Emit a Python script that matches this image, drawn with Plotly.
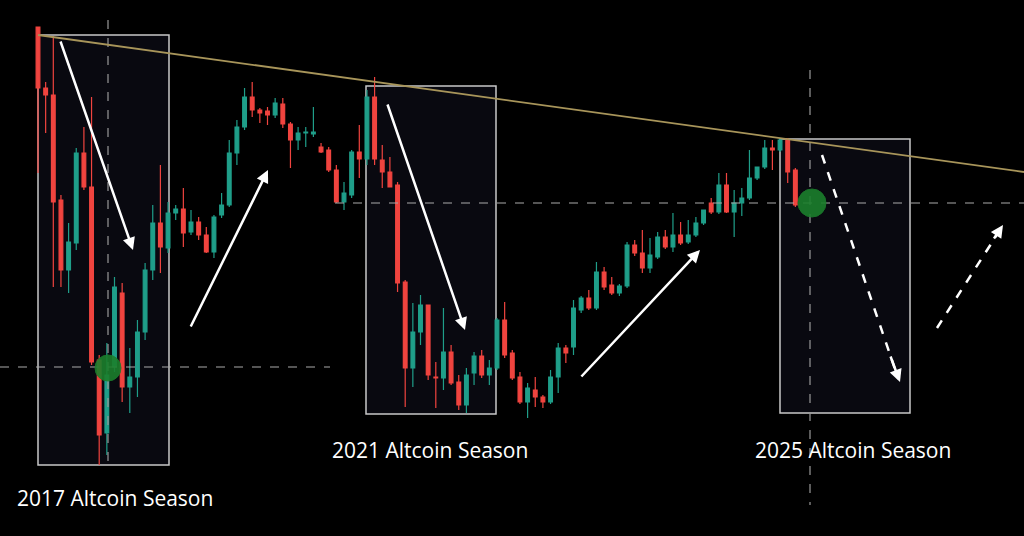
import plotly.graph_objects as go

# Candle values (screen-level units, converted to price below)
open_px = [27,88,95,200,270,243,153,187,360,433,367,293,387,377,332,270,223,248,213,209,
           232,222,235,252,215,205,153,127,97,110,111,115,104,124,140,133,134,147,150,170,
           202,195,152,159,97,160,172,185,282,368,332,305,377,378,352,382,405,373,356,375,
           368,320,353,377,402,390,397,402,377,348,347,310,298,308,272,285,293,286,245,253,
           268,257,237,247,235,242,235,223,203,212,185,212,203,198,178,167,148,150,140,170]
high_px = [27,82,36,195,223,148,127,97,355,343,277,283,348,320,263,205,165,202,205,188,
           210,217,227,215,193,140,120,88,82,108,107,98,98,122,127,127,107,143,147,165,
           182,150,125,90,77,145,157,182,280,303,295,305,362,308,345,375,368,352,350,360,
           318,302,350,372,383,377,395,370,343,345,300,296,290,262,267,277,284,242,240,230,
           238,232,230,213,222,220,217,210,198,173,173,190,188,150,170,140,140,138,138,168]
low_px = [173,133,287,287,293,250,190,365,465,455,372,402,413,397,340,280,273,253,220,247,
          235,240,253,258,218,207,165,130,117,123,125,118,128,168,150,147,137,153,172,203,
          210,198,178,165,165,188,187,292,407,387,345,380,408,390,385,410,413,385,378,385,
          370,358,380,404,418,407,408,404,393,363,355,313,310,310,290,295,296,288,256,273,
          273,259,249,252,245,244,237,225,214,214,213,237,216,200,180,169,170,152,183,207]
close_px = [88,95,202,270,242,153,187,362,435,375,287,387,377,332,270,223,247,213,209,233,
            222,235,252,217,205,153,127,97,110,113,115,103,124,140,133,132,132,152,170,202,
            193,152,159,97,159,172,187,283,368,332,305,375,378,352,383,405,375,356,375,368,
            320,355,378,402,388,397,402,377,348,353,308,298,308,272,287,293,286,245,253,268,
            255,237,247,235,243,235,223,210,212,185,212,203,198,178,167,148,150,140,172,205]

labels = ["2017 Altcoin Season", "2021 Altcoin Season", "2025 Altcoin Season"]

H = 536
S = 7.65
def X(px): return (px - 38) / S
def Y(py): return H - py

idx = list(range(len(open_px)))
o = [Y(v) for v in open_px]; h = [Y(v) for v in high_px]
l = [Y(v) for v in low_px]; c = [Y(v) for v in close_px]

fig = go.Figure()
fig.add_trace(go.Candlestick(
    x=idx, open=o, high=h, low=l, close=c, whiskerwidth=0,
    increasing=dict(line=dict(color="#1f9e89", width=1.2), fillcolor="#1f9e89"),
    decreasing=dict(line=dict(color="#f0443f", width=1.2), fillcolor="#f0443f"),
    showlegend=False, hoverinfo="skip"))

shapes = []
for (x0, y0, x1, y1) in [(38,35,169,465),(366,86,496,414),(780,139,910,413)]:
    shapes.append(dict(type="rect", x0=X(x0), x1=X(x1), y0=Y(y0), y1=Y(y1),
                       line=dict(color="#c8c8c8", width=1.5), fillcolor="rgba(20,20,35,0.45)",
                       layer="below"))
shapes += [
    dict(type="line", x0=X(0), x1=X(330), y0=Y(367), y1=Y(367), line=dict(color="#aaaaaa", width=1.2, dash="dash")),
    dict(type="line", x0=X(335), x1=X(1024), y0=Y(203), y1=Y(203), line=dict(color="#aaaaaa", width=1.2, dash="dash")),
    dict(type="line", x0=X(108), x1=X(108), y0=Y(20), y1=Y(470), line=dict(color="#999999", width=1.2, dash="dash")),
    dict(type="line", x0=X(810), x1=X(810), y0=Y(70), y1=Y(505), line=dict(color="#999999", width=1.2, dash="dash")),
]
shapes.append(dict(type="line", x0=X(38), x1=X(1024), y0=Y(35), y1=Y(172), line=dict(color="#a8955a", width=1.8)))
for (cx, cy, r) in [(108,368,13),(812,203,14)]:
    shapes.append(dict(type="circle", x0=X(cx-r), x1=X(cx+r), y0=Y(cy+r), y1=Y(cy-r),
                       fillcolor="#1b7f2c", line=dict(color="#1b7f2c", width=1), opacity=0.9))
for (x0, y0, x1, y1) in [(822,155,898,378),(937,328,1000,230)]:
    shapes.append(dict(type="line", x0=X(x0), x1=X(x1), y0=Y(y0), y1=Y(y1),
                       line=dict(color="white", width=2.5, dash="dash")))

ann = []
for (x0, y0, x1, y1) in [(60,40,133,250),(190,328,268,170),(387,103,465,330),(580,378,700,250)]:
    ann.append(dict(x=X(x1), y=Y(y1), ax=X(x0), ay=Y(y0), xref="x", yref="y", axref="x", ayref="y",
                    showarrow=True, arrowhead=2, arrowsize=1, arrowwidth=2.5, arrowcolor="white", text=""))
for (x0, y0, x1, y1) in [(890,355,900,382),(993,240,1003,225)]:
    ann.append(dict(x=X(x1), y=Y(y1), ax=X(x0), ay=Y(y0), xref="x", yref="y", axref="x", ayref="y",
                    showarrow=True, arrowhead=2, arrowsize=1, arrowwidth=2.5, arrowcolor="white", text=""))
for (t, px, py) in zip(labels, [115, 430, 853], [498, 450, 450]):
    ann.append(dict(x=X(px), y=Y(py), xref="x", yref="y", text=t, showarrow=False,
                    font=dict(color="white", size=21, family="Open Sans")))

fig.update_layout(
    width=1024, height=536, margin=dict(l=0, r=0, t=0, b=0),
    paper_bgcolor="black", plot_bgcolor="black",
    xaxis=dict(range=[X(0), X(1024)], visible=False, rangeslider=dict(visible=False)),
    yaxis=dict(range=[Y(536), Y(0)], visible=False),
    shapes=shapes, annotations=ann)
fig.write_html("out.html", config={"displayModeBar": False},
               post_script="document.body.style.margin='0';document.body.style.background='black';")
